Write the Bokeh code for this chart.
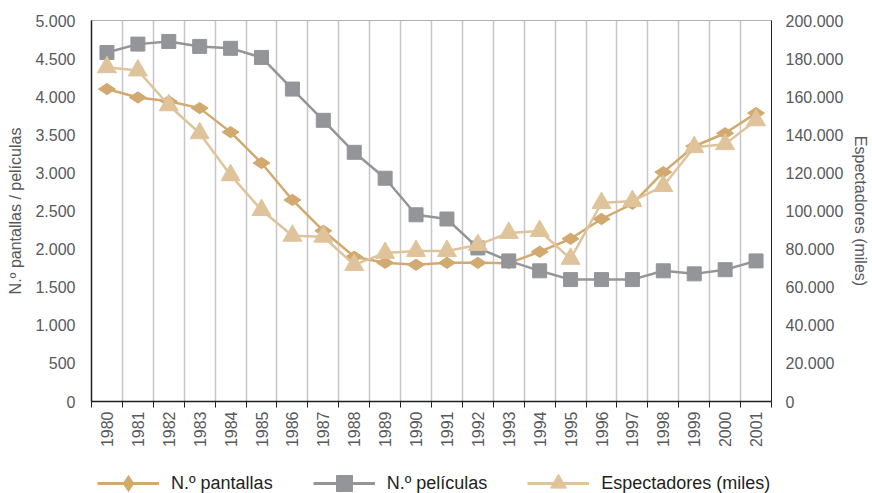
import math
from bokeh.plotting import figure
from bokeh.layouts import column
from bokeh.models import Range1d, LinearAxis, FixedTicker, Legend, LegendItem
from bokeh.embed import file_html
from bokeh.resources import INLINE

years = [str(y) for y in range(1980, 2002)]
pantallas = [4100, 3990, 3940, 3850, 3535, 3130, 2645, 2240, 1900, 1820, 1795, 1820,
             1820, 1815, 1965, 2135, 2395, 2595, 3010, 3350, 3520, 3785]
peliculas = [4580, 4690, 4725, 4660, 4635, 4515, 4100, 3690, 3270, 2930, 2450, 2395,
             2015, 1845, 1715, 1600, 1600, 1600, 1715, 1675, 1730, 1845]
espectadores = [175500, 173800, 155500, 140800, 118800, 100500, 87000, 86500, 71700,
                78000, 79000, 79000, 82200, 88500, 89500, 74900, 104200, 105200,
                113100, 133500, 135100, 147600]

left_ticks = [0, 500, 1000, 1500, 2000, 2500, 3000, 3500, 4000, 4500, 5000]
left_labels = ["0", "500", "1.000", "1.500", "2.000", "2.500", "3.000", "3.500",
               "4.000", "4.500", "5.000"]
right_ticks = [0, 20000, 40000, 60000, 80000, 100000, 120000, 140000, 160000,
               180000, 200000]
right_labels = ["0", "20.000", "40.000", "60.000", "80.000", "100.000", "120.000",
                "140.000", "160.000", "180.000", "200.000"]

names = ["N.º pantallas", "N.º películas", "Espectadores (miles)"]
left_title = "N.º pantallas / películas"
right_title = "Espectadores (miles)"

C_PANT = "#d2a96f"
C_PEL = "#939598"
C_ESP = "#dfc49b"
TXT = "#58595b"
FONT = "Liberation Sans"
NAN = float("nan")

n = len(years)
xs = [i + 0.5 for i in range(n)]

p = figure(width=872, height=450, output_backend="svg", toolbar_location=None,
           x_range=Range1d(0, n), y_range=Range1d(0, 5000),
           min_border_left=91, min_border_right=95, min_border_top=20,
           min_border_bottom=48)
p.extra_y_ranges = {"right": Range1d(0, 200000)}
p.outline_line_color = "#b0b0b0"
p.outline_line_width = 1
p.background_fill_color = "white"
p.border_fill_color = "white"

# x axis
xt = FixedTicker(ticks=xs, minor_ticks=list(range(n + 1)))
p.xaxis.ticker = xt
p.xaxis.major_label_overrides = {x: y for x, y in zip(xs, years)}
p.xaxis.major_label_orientation = math.pi / 2
p.xaxis.major_tick_line_color = None
p.xaxis.major_tick_out = 0
p.xaxis.major_tick_in = 0
p.xaxis.minor_tick_line_color = "#231f20"
p.xaxis.minor_tick_out = 6
p.xaxis.minor_tick_in = 0
p.xaxis.axis_line_color = "#231f20"
p.xaxis.axis_line_width = 1.5
p.xaxis.major_label_text_font = FONT
p.xaxis.major_label_text_font_size = "16px"
p.xaxis.major_label_text_color = TXT
p.xaxis.major_label_standoff = 4

p.xgrid.ticker = xt
p.xgrid.grid_line_color = None
p.xgrid.minor_grid_line_color = "#c6c6c6"
p.xgrid.minor_grid_line_width = 1.5
p.ygrid.grid_line_color = None

# left axis
p.yaxis.ticker = FixedTicker(ticks=left_ticks)
p.yaxis.major_label_overrides = {t: l for t, l in zip(left_ticks, left_labels)}
p.yaxis.axis_label = left_title
p.yaxis.axis_label_text_font = FONT
p.yaxis.axis_label_text_font_size = "16px"
p.yaxis.axis_label_text_font_style = "normal"
p.yaxis.axis_label_text_color = TXT
p.yaxis.axis_label_standoff = 8
p.yaxis.major_label_text_font = FONT
p.yaxis.major_label_text_font_size = "16px"
p.yaxis.major_label_text_color = TXT
p.yaxis.major_tick_line_color = None
p.yaxis.minor_tick_line_color = None
p.yaxis.major_label_standoff = 10
p.yaxis.axis_line_color = "#231f20"
p.yaxis.axis_line_width = 1.5

# right axis
ra = LinearAxis(y_range_name="right", ticker=FixedTicker(ticks=right_ticks))
ra.major_label_overrides = {t: l for t, l in zip(right_ticks, right_labels)}
ra.axis_label = right_title
ra.axis_label_text_font = FONT
ra.axis_label_text_font_size = "16px"
ra.axis_label_text_font_style = "normal"
ra.axis_label_text_color = TXT
ra.axis_label_standoff = 6
ra.major_label_text_font = FONT
ra.major_label_text_font_size = "16px"
ra.major_label_text_color = TXT
ra.major_tick_line_color = None
ra.minor_tick_line_color = None
ra.major_label_standoff = 8
ra.axis_line_color = "#231f20"
ra.axis_line_width = 1
p.add_layout(ra, "right")

# series
p.line(xs, pantallas, line_color=C_PANT, line_width=2.5)
p.scatter(xs, pantallas, marker="diamond", size=17, angle=math.pi / 2,
          fill_color=C_PANT, line_color=C_PANT)
p.line(xs, peliculas, line_color=C_PEL, line_width=2.5)
p.scatter(xs, peliculas, marker="square", size=14,
          fill_color=C_PEL, line_color=C_PEL)
p.line(xs, espectadores, line_color=C_ESP, line_width=2.5, y_range_name="right")
p.scatter(xs, espectadores, marker="triangle", size=19, y_range_name="right",
          fill_color=C_ESP, line_color=C_ESP)

# legend strip (swatch renderers hold no visible data)
lf = figure(width=872, height=43, output_backend="svg", toolbar_location=None,
            x_range=Range1d(0, 1), y_range=Range1d(0, 1),
            x_axis_type=None, y_axis_type=None,
            min_border_left=0, min_border_right=0, min_border_top=0,
            min_border_bottom=0)
lf.outline_line_color = None
lf.xgrid.visible = False
lf.ygrid.visible = False
styles = [(C_PANT, "diamond", math.pi / 2), (C_PEL, "square", 0),
          (C_ESP, "triangle", 0)]
items = []
for name, (col, mk, ang) in zip(names, styles):
    lr = lf.line(x=[NAN], y=[NAN], line_color=col, line_width=3)
    sr = lf.scatter(x=[NAN], y=[NAN], marker=mk, angle=ang,
                    fill_color=col, line_color=col)
    items.append(LegendItem(label=name, renderers=[lr, sr]))

legend = Legend(items=items, orientation="horizontal", location=(6, -10),
                glyph_width=62, glyph_height=40, label_standoff=12, spacing=40,
                label_text_font=FONT, label_text_font_size="18px",
                label_text_color="#231f20", border_line_color=None,
                background_fill_alpha=0, margin=0, padding=0)
lf.add_layout(legend, "center")

open("out.html", "w").write(file_html(column(p, lf, spacing=0), INLINE))
